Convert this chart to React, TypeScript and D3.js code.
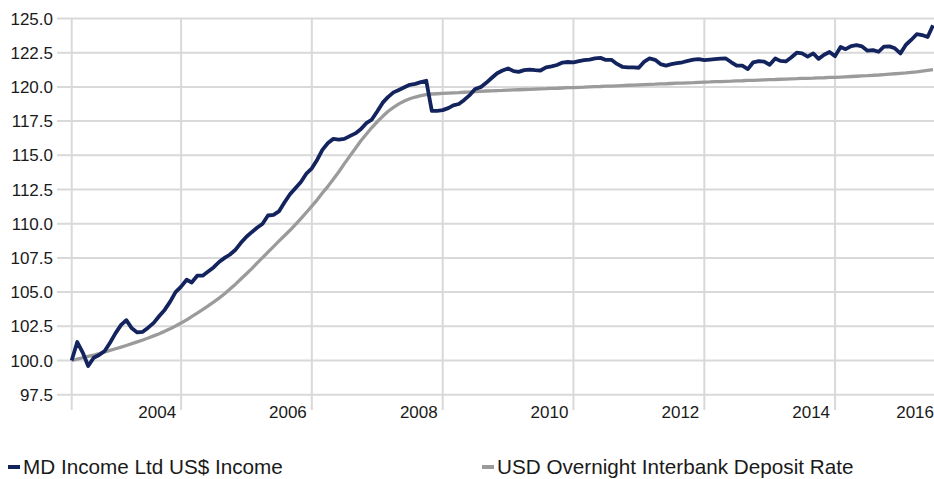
import React from 'react';
import * as d3 from 'd3';

// Monthly observations, May 2003 .. Jul 2016
const startMonth = new Date(2003, 4, 1);
const endMonth = new Date(2016, 6, 1);
const months: Date[] = d3.timeMonth.range(startMonth, d3.timeMonth.offset(endMonth, 1));

const mdIncome = [
  100.0, 101.35, 100.6, 99.6, 100.2, 100.4, 100.7, 101.3, 102.0, 102.6,
  102.95, 102.35, 102.05, 102.1, 102.4, 102.75, 103.25, 103.7, 104.3, 105.0,
  105.4, 105.9, 105.7, 106.2, 106.2, 106.5, 106.8, 107.2, 107.5, 107.75,
  108.1, 108.6, 109.05, 109.4, 109.7, 110.0, 110.6, 110.65, 110.9, 111.55,
  112.15, 112.6, 113.05, 113.65, 114.05, 114.7, 115.4, 115.9, 116.2, 116.15,
  116.2, 116.4, 116.6, 116.9, 117.35, 117.6, 118.2, 118.85, 119.25, 119.6,
  119.78, 119.97, 120.15, 120.22, 120.35, 120.45, 118.25, 118.25, 118.3, 118.45,
  118.65, 118.75, 119.05, 119.4, 119.85, 119.98, 120.3, 120.65, 121.0, 121.2,
  121.35, 121.15, 121.1, 121.23, 121.27, 121.22, 121.2, 121.43, 121.5, 121.6,
  121.78, 121.82, 121.79, 121.88, 121.95, 122.0, 122.08, 122.12, 121.97, 121.98,
  121.68, 121.47, 121.43, 121.42, 121.4, 121.85, 122.08, 121.98, 121.67, 121.56,
  121.66, 121.73, 121.8, 121.9, 121.99, 122.03, 121.96, 122.0, 122.03, 122.07,
  122.08, 121.8, 121.55, 121.55, 121.3, 121.8, 121.89, 121.85, 121.62, 122.08,
  121.9, 121.86, 122.15, 122.5, 122.45, 122.22, 122.45, 122.05, 122.35, 122.55,
  122.25, 122.92, 122.76, 122.98, 123.05, 122.96, 122.65, 122.69, 122.57, 122.95,
  122.96, 122.82, 122.45, 123.08, 123.43, 123.85, 123.79, 123.65, 124.5,
];

const usdDeposit = [
  100.0, 100.1, 100.2, 100.3, 100.4, 100.5, 100.62, 100.74, 100.86, 100.98,
  101.1, 101.23, 101.36, 101.5, 101.64, 101.8, 101.96, 102.13, 102.32, 102.52,
  102.74, 102.97, 103.21, 103.46, 103.72, 103.99, 104.27, 104.56, 104.88, 105.22,
  105.58, 105.96, 106.34, 106.73, 107.12, 107.52, 107.92, 108.32, 108.72, 109.12,
  109.52, 109.94, 110.37, 110.82, 111.29, 111.76, 112.24, 112.73, 113.25, 113.8,
  114.37, 114.94, 115.5, 116.04, 116.54, 117.01, 117.45, 117.85, 118.2, 118.5,
  118.76, 118.97, 119.13, 119.26, 119.36, 119.44, 119.48, 119.5, 119.52, 119.54,
  119.56, 119.58, 119.61, 119.63, 119.66, 119.68, 119.7, 119.71, 119.73, 119.74,
  119.76, 119.78, 119.79, 119.81, 119.82, 119.84, 119.86, 119.87, 119.89, 119.9,
  119.92, 119.94, 119.95, 119.97, 119.98, 120.0, 120.02, 120.03, 120.05, 120.06,
  120.08, 120.1, 120.12, 120.13, 120.15, 120.17, 120.19, 120.2, 120.22, 120.23,
  120.25, 120.27, 120.28, 120.3, 120.31, 120.33, 120.35, 120.36, 120.38, 120.39,
  120.41, 120.42, 120.44, 120.45, 120.47, 120.48, 120.5, 120.51, 120.53, 120.54,
  120.56, 120.57, 120.59, 120.6, 120.62, 120.63, 120.64, 120.66, 120.67, 120.69,
  120.7, 120.72, 120.74, 120.76, 120.78, 120.8, 120.82, 120.85, 120.87, 120.9,
  120.93, 120.96, 120.99, 121.02, 121.06, 121.1, 121.15, 121.21, 121.27,
];

const yTicks = [97.5, 100, 102.5, 105, 107.5, 110, 112.5, 115, 117.5, 120, 122.5, 125];
const xTickYears = [2004, 2006, 2008, 2010, 2012, 2014, 2016];
const seriesNames = ['MD Income Ltd US$ Income', 'USD Overnight Interbank Deposit Rate'];
const seriesColors = ['#13235e', '#9b9b9b'];

const W = 934;
const H = 479;
const FONT = '"Liberation Sans", Arial, Helvetica, sans-serif';

export default function App() {
  const x = d3.scaleTime().domain([startMonth, endMonth]).range([71.7, 933]);
  const y = d3.scaleLinear().domain([97.5, 125]).range([394.7, 18.5]);
  const plotTop = y(125);
  const tickBottom = 410;
  const gridLeft = 57;

  const line = d3
    .line<number>()
    .x((_, i) => x(months[i]))
    .y((d) => y(d));

  const gridDates = xTickYears
    .map((yr) => new Date(yr + 1, 0, 1))
    .filter((d) => d <= endMonth);

  return (
    <svg
      width={W}
      height={H}
      viewBox={`0 0 ${W} ${H}`}
      style={{ position: 'absolute', left: 0, top: 0, background: '#fff' }}
      fontFamily={FONT}
    >
      {/* horizontal gridlines */}
      {yTicks.map((t) => (
        <line
          key={'h' + t}
          x1={gridLeft}
          x2={W}
          y1={y(t)}
          y2={y(t)}
          stroke="#d9d9d9"
          strokeWidth={2}
        />
      ))}
      {/* vertical gridlines incl. left axis */}
      {[startMonth, ...gridDates].map((d, i) => (
        <line
          key={'v' + i}
          x1={x(d)}
          x2={x(d)}
          y1={plotTop}
          y2={tickBottom}
          stroke="#d9d9d9"
          strokeWidth={2}
        />
      ))}
      {/* y labels */}
      {yTicks.map((t) => (
        <text
          key={'yl' + t}
          x={53}
          y={y(t)}
          dy="0.36em"
          textAnchor="end"
          fontSize={17}
          fill="#1a1a1a"
        >
          {d3.format('.1f')(t)}
        </text>
      ))}
      {/* x labels */}
      {xTickYears.map((yr) => {
        const gx = Math.min(x(new Date(yr + 1, 0, 1)) - 5, 934);
        return (
          <text
            key={'xl' + yr}
            x={gx}
            y={418}
            textAnchor="end"
            fontSize={17}
            fill="#1a1a1a"
          >
            {yr}
          </text>
        );
      })}
      {/* series */}
      <path
        d={line(usdDeposit) || ''}
        fill="none"
        stroke={seriesColors[1]}
        strokeWidth={3.3}
        strokeLinejoin="round"
      />
      <path
        d={line(mdIncome) || ''}
        fill="none"
        stroke={seriesColors[0]}
        strokeWidth={3.8}
        strokeLinejoin="round"
      />
      {/* legend */}
      {seriesNames.map((name, i) => {
        const lx = i === 0 ? 8 : 482;
        return (
          <g key={name} transform={`translate(${lx},467)`}>
            <rect x={0} y={-2} width={12} height={4} fill={seriesColors[i]} />
            <text x={15} y={0} dy="0.36em" fontSize={20.7} fill="#1a1a1a">
              {name}
            </text>
          </g>
        );
      })}
    </svg>
  );
}
